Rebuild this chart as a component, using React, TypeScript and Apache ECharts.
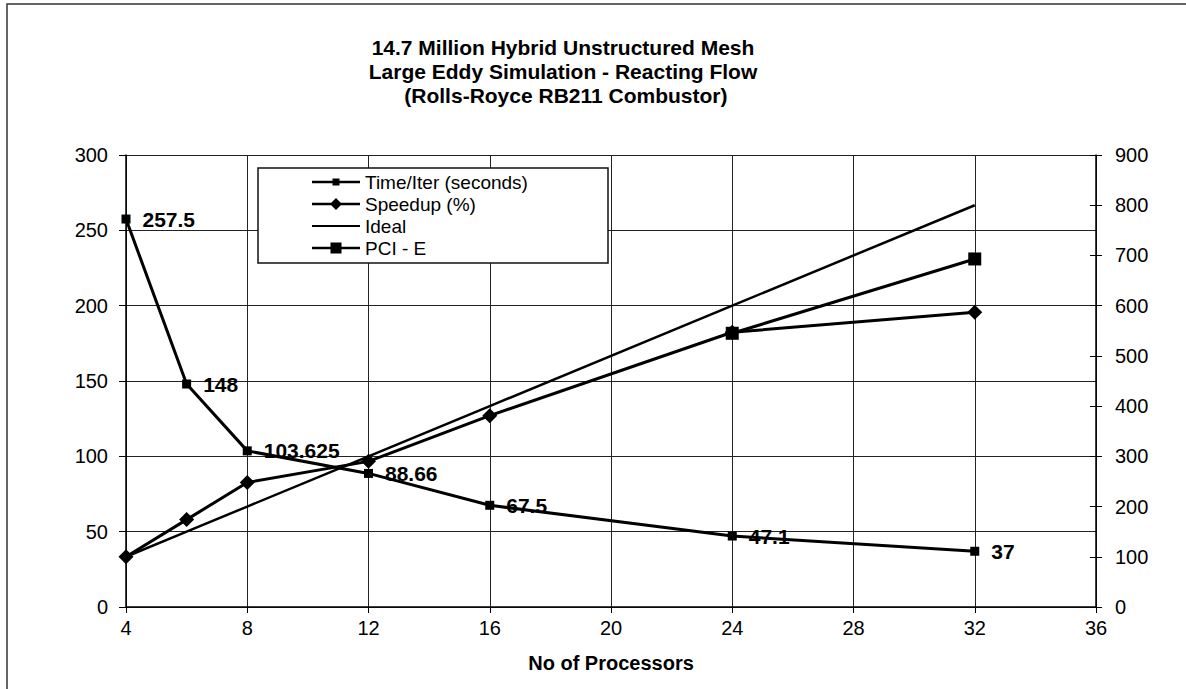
import React, { useEffect, useRef } from "react";
import * as echarts from "echarts";

// Processor counts on the x axis
const processors = [4, 6, 8, 12, 16, 24, 32];
// Wall-clock time per iteration, seconds (left axis)
const timePerIter = [257.5, 148, 103.625, 88.66, 67.5, 47.1, 37];
// Measured speedup, percent (right axis)
const speedup = [100, 174, 248, 290, 381, 547, 587];
// Linear scaling reference, percent (right axis)
const ideal = [100, 150, 200, 300, 400, 600, 800];
// PCI-E interconnect runs, percent (right axis)
const pciE: (number | null)[] = [null, null, null, null, null, 545, 693];

const seriesNames = ["Time/Iter (seconds)", "Speedup (%)", "Ideal", "PCI - E"];
const titleLines = [
  "14.7 Million Hybrid Unstructured Mesh",
  "Large Eddy Simulation - Reacting Flow",
  " (Rolls-Royce RB211 Combustor)",
];
const xAxisName = "No of Processors";

const FONT = "Liberation Sans, Arial, sans-serif";

// Legend keys: a 48px line with the series marker in the middle
const legendIcons = [
  "path://M0,2.25L20.5,2.25L20.5,0L27.5,0L27.5,2.25L48,2.25L48,4.75L27.5,4.75L27.5,7L20.5,7L20.5,4.75L0,4.75Z",
  "path://M0,4.75L19.25,4.75L24,0L28.75,4.75L48,4.75L48,7.25L28.75,7.25L24,12L19.25,7.25L0,7.25Z",
  "path://M0,0L48,0L48,2L0,2Z",
  "path://M0,4.25L18.5,4.25L18.5,0L29.5,0L29.5,4.25L48,4.25L48,6.75L29.5,6.75L29.5,11L18.5,11L18.5,6.75L0,6.75Z",
];

function pairs(values: (number | null)[]) {
  return processors
    .map((p, i) => [p, values[i]])
    .filter((d) => d[1] !== null) as number[][];
}

export default function App() {
  const ref = useRef<HTMLDivElement>(null);

  useEffect(() => {
    document.body.style.margin = "0";
    if (!ref.current) return;
    const chart = echarts.init(ref.current, undefined, { renderer: "svg" });

    const lineBase = {
      type: "line" as const,
      color: "#000",
      smooth: false,
      emphasis: { disabled: true },
    };

    const axisLabel = { fontFamily: FONT, fontSize: 20, color: "#000" };

    chart.setOption({
      animation: false,
      backgroundColor: "#fff",
      textStyle: { fontFamily: FONT, color: "#000" },
      title: {
        text: titleLines.join("\n"),
        left: 558,
        top: 30,
        textAlign: "center",
        textStyle: {
          fontFamily: FONT,
          fontWeight: "bold",
          fontSize: 21,
          lineHeight: 24,
          color: "#000",
        },
      },
      graphic: [
        {
          type: "rect",
          z: 0,
          shape: { x: 7, y: 4, width: 1200, height: 700 },
          style: { fill: "none", stroke: "#333", lineWidth: 1.5 },
        },
        {
          type: "rect",
          z: 3,
          shape: { x: 258, y: 168, width: 350, height: 95 },
          style: { fill: "#fff", stroke: "#111", lineWidth: 1.5 },
        },
      ],
      legend: {
        z: 5,
        left: 307,
        top: 166,
        orient: "vertical",
        itemWidth: 48,
        itemHeight: 14,
        itemGap: 0,
        selectedMode: false,
        textStyle: { fontFamily: FONT, fontSize: 19, lineHeight: 22, color: "#000" },
        data: seriesNames.map((name, i) => ({ name, icon: legendIcons[i] })),
      },
      grid: { left: 126, right: 90, top: 155, bottom: 82 },
      xAxis: {
        type: "value",
        min: 4,
        max: 36,
        interval: 4,
        name: xAxisName,
        nameLocation: "middle",
        nameGap: 46,
        nameTextStyle: { fontFamily: FONT, fontWeight: "bold", fontSize: 20, color: "#000" },
        axisLine: { show: true, lineStyle: { color: "#000", width: 1.5 } },
        axisTick: { show: true, length: 6, lineStyle: { color: "#000" } },
        axisLabel: { ...axisLabel, margin: 11 },
        splitLine: { show: true, lineStyle: { color: "#222", width: 1 } },
      },
      yAxis: [
        {
          type: "value",
          min: 0,
          max: 300,
          interval: 50,
          position: "left",
          axisLine: { show: true, lineStyle: { color: "#000", width: 1.5 } },
          axisTick: { show: true, length: 7, lineStyle: { color: "#000" } },
          axisLabel: { ...axisLabel, margin: 18 },
          splitLine: { show: true, lineStyle: { color: "#222", width: 1 } },
        },
        {
          type: "value",
          min: 0,
          max: 900,
          interval: 100,
          position: "right",
          axisLine: { show: true, onZero: false, lineStyle: { color: "#000", width: 1.5 } },
          axisTick: { show: true, length: 6, lineStyle: { color: "#000" } },
          axisLabel: { ...axisLabel, margin: 19 },
          splitLine: { show: false },
        },
        {
          type: "value",
          min: 0,
          max: 900,
          interval: 100,
          position: "right",
          axisLine: { show: false },
          axisTick: { show: true, inside: true, length: 6, lineStyle: { color: "#000" } },
          axisLabel: { show: false },
          splitLine: { show: false },
        },
      ],
      series: [
        {
          ...lineBase,
          name: seriesNames[0],
          yAxisIndex: 0,
          data: pairs(timePerIter),
          symbol: "rect",
          symbolSize: 9,
          lineStyle: { color: "#000", width: 3 },
          itemStyle: { color: "#000" },
          label: {
            show: true,
            position: "right",
            distance: 12,
            fontFamily: FONT,
            fontWeight: "bold",
            fontSize: 21,
            color: "#000",
            formatter: (p: any) => String(p.value[1]),
          },
          z: 4,
        },
        {
          ...lineBase,
          name: seriesNames[1],
          yAxisIndex: 1,
          data: pairs(speedup),
          symbol: "diamond",
          symbolSize: 15,
          lineStyle: { color: "#000", width: 3 },
          itemStyle: { color: "#000" },
        },
        {
          ...lineBase,
          name: seriesNames[2],
          yAxisIndex: 1,
          data: pairs(ideal),
          symbol: "none",
          lineStyle: { color: "#000", width: 2.5 },
          itemStyle: { color: "#000" },
        },
        {
          ...lineBase,
          name: seriesNames[3],
          yAxisIndex: 1,
          data: pairs(pciE),
          symbol: "rect",
          symbolSize: 13,
          lineStyle: { color: "#000", width: 3 },
          itemStyle: { color: "#000" },
        },
      ],
    });

    return () => chart.dispose();
  }, []);

  return <div ref={ref} style={{ width: 1186, height: 689 }} />;
}
